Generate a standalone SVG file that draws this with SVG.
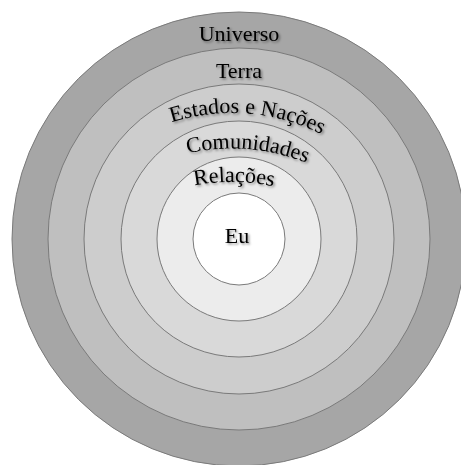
<svg xmlns="http://www.w3.org/2000/svg" width="461" height="465" viewBox="0 0 461 465">
  <defs>
    <style>
      .ring { stroke: #7a7a7a; stroke-width: 1; }
      .lbl { font-family: "Liberation Serif", "Times New Roman", serif; font-size: 22px; fill: #000000; filter: url(#shadow); }
    </style>
    <filter id="shadow" x="-20%" y="-40%" width="140%" height="180%">
      <feDropShadow dx="1.5" dy="1.5" stdDeviation="1.2" flood-color="#000000" flood-opacity="0.45"/>
    </filter>
    <path id="arcEstados" d="M89.3,172.8 A200,200 0 0,1 394.8,196.9" fill="none"/>
    <path id="arcComunidades" d="M89.3,208.3 A200,200 0 0,1 394.8,232.4" fill="none"/>
    <path id="arcRelacoes" d="M58.8,282 A200,200 0 0,1 407.3,285.6" fill="none"/>
  </defs>
  <rect width="461" height="465" fill="#ffffff"/>
  <g id="universo">
    <circle class="ring" cx="239" cy="239" r="227" fill="#a6a6a6"/>
    <text class="lbl" x="239" y="41" text-anchor="middle">Universo</text>
  </g>
  <g id="terra">
    <circle class="ring" cx="239" cy="239" r="191" fill="#bfbfbf"/>
    <text class="lbl" x="239" y="78" text-anchor="middle">Terra</text>
  </g>
  <g id="estados">
    <circle class="ring" cx="239" cy="239" r="155" fill="#cdcdcd"/>
    <text class="lbl"><textPath href="#arcEstados" startOffset="50%" text-anchor="middle">Estados e Nações</textPath></text>
  </g>
  <g id="comunidades">
    <circle class="ring" cx="239" cy="239" r="118" fill="#d9d9d9"/>
    <text class="lbl"><textPath href="#arcComunidades" startOffset="50%" text-anchor="middle">Comunidades</textPath></text>
  </g>
  <g id="relacoes">
    <circle class="ring" cx="239" cy="239" r="82" fill="#ececec"/>
    <text class="lbl"><textPath href="#arcRelacoes" startOffset="50%" text-anchor="middle">Relações</textPath></text>
  </g>
  <g id="eu">
    <circle class="ring" cx="239" cy="239" r="46" fill="#ffffff"/>
    <text class="lbl" x="237" y="243" text-anchor="middle">Eu</text>
  </g>
  <g id="connectors"/>
</svg>
